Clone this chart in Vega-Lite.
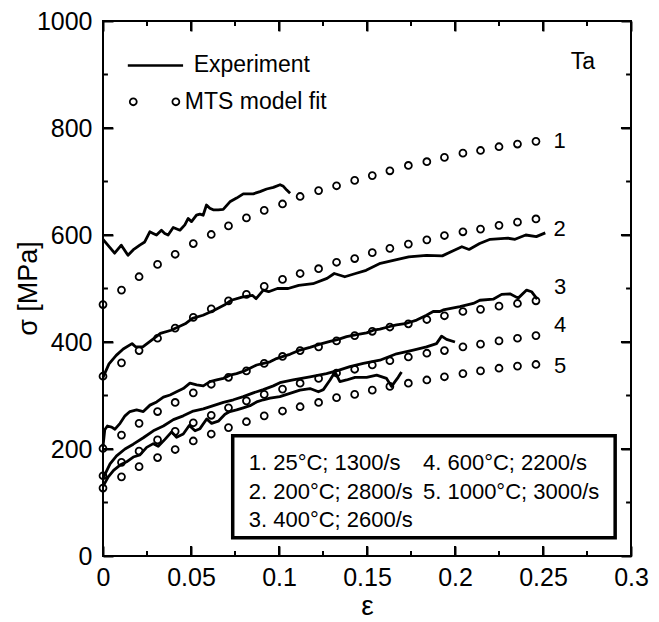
{
  "$schema": "https://vega.github.io/schema/vega-lite/v6.json",
  "width": 528,
  "height": 535,
  "autosize": {"type": "none"},
  "padding": {"left": 103, "top": 21, "right": 28, "bottom": 66},
  "background": "white",
  "config": {
    "view": {"stroke": "black", "strokeWidth": 2},
    "font": "Liberation Sans"
  },
  "datasets": {
    "exp": [
      {"c":"1","x":0,"y":592},{"c":"1","x":0.0066,"y":566},{"c":"1","x":0.0104,"y":581},{"c":"1","x":0.0142,"y":562},{"c":"1","x":0.0171,"y":572},{"c":"1","x":0.0209,"y":581},{"c":"1","x":0.0237,"y":587},{"c":"1","x":0.0266,"y":606},{"c":"1","x":0.0285,"y":603},{"c":"1","x":0.0304,"y":600},{"c":"1","x":0.0332,"y":609},{"c":"1","x":0.0351,"y":603},{"c":"1","x":0.037,"y":600},{"c":"1","x":0.0399,"y":614},{"c":"1","x":0.0437,"y":609},{"c":"1","x":0.0465,"y":619},{"c":"1","x":0.0484,"y":631},{"c":"1","x":0.0503,"y":625},{"c":"1","x":0.0531,"y":637},{"c":"1","x":0.055,"y":639},{"c":"1","x":0.0569,"y":637},{"c":"1","x":0.0588,"y":656},{"c":"1","x":0.0607,"y":650},{"c":"1","x":0.0626,"y":647},{"c":"1","x":0.0655,"y":647},{"c":"1","x":0.0683,"y":648},{"c":"1","x":0.0721,"y":662},{"c":"1","x":0.0759,"y":669},{"c":"1","x":0.0797,"y":677},{"c":"1","x":0.0854,"y":677},{"c":"1","x":0.0892,"y":681},{"c":"1","x":0.093,"y":686},{"c":"1","x":0.0968,"y":689},{"c":"1","x":0.1006,"y":694},{"c":"1","x":0.1025,"y":691},{"c":"1","x":0.1044,"y":684},{"c":"1","x":0.1063,"y":678},
      {"c":"2","x":0,"y":334},{"c":"2","x":0.0034,"y":359},{"c":"2","x":0.0075,"y":375},{"c":"2","x":0.0115,"y":387},{"c":"2","x":0.0165,"y":397},{"c":"2","x":0.0185,"y":391},{"c":"2","x":0.0226,"y":391},{"c":"2","x":0.0286,"y":406},{"c":"2","x":0.0326,"y":416},{"c":"2","x":0.0387,"y":422},{"c":"2","x":0.0427,"y":428},{"c":"2","x":0.0467,"y":434},{"c":"2","x":0.0508,"y":444},{"c":"2","x":0.0568,"y":450},{"c":"2","x":0.0629,"y":459},{"c":"2","x":0.0689,"y":469},{"c":"2","x":0.0729,"y":478},{"c":"2","x":0.079,"y":484},{"c":"2","x":0.085,"y":487},{"c":"2","x":0.087,"y":481},{"c":"2","x":0.0911,"y":497},{"c":"2","x":0.0941,"y":494},{"c":"2","x":0.0991,"y":500},{"c":"2","x":0.1052,"y":500},{"c":"2","x":0.1112,"y":506},{"c":"2","x":0.1193,"y":509},{"c":"2","x":0.1273,"y":519},{"c":"2","x":0.1314,"y":528},{"c":"2","x":0.1374,"y":522},{"c":"2","x":0.1435,"y":528},{"c":"2","x":0.1495,"y":534},{"c":"2","x":0.1576,"y":547},{"c":"2","x":0.1656,"y":553},{"c":"2","x":0.1737,"y":559},{"c":"2","x":0.1838,"y":562},{"c":"2","x":0.1928,"y":561},{"c":"2","x":0.1999,"y":572},{"c":"2","x":0.2039,"y":578},{"c":"2","x":0.208,"y":573},{"c":"2","x":0.214,"y":584},{"c":"2","x":0.22,"y":592},{"c":"2","x":0.2301,"y":594},{"c":"2","x":0.2341,"y":592},{"c":"2","x":0.2402,"y":600},{"c":"2","x":0.2462,"y":597},{"c":"2","x":0.2513,"y":604},
      {"c":"3","x":0,"y":205},{"c":"3","x":0.001,"y":236},{"c":"3","x":0.0025,"y":243},{"c":"3","x":0.0049,"y":241},{"c":"3","x":0.0068,"y":237},{"c":"3","x":0.0097,"y":248},{"c":"3","x":0.0125,"y":262},{"c":"3","x":0.0153,"y":270},{"c":"3","x":0.0191,"y":273},{"c":"3","x":0.0229,"y":270},{"c":"3","x":0.0267,"y":282},{"c":"3","x":0.0305,"y":288},{"c":"3","x":0.0343,"y":297},{"c":"3","x":0.0381,"y":301},{"c":"3","x":0.0418,"y":307},{"c":"3","x":0.0456,"y":313},{"c":"3","x":0.0494,"y":323},{"c":"3","x":0.0532,"y":320},{"c":"3","x":0.057,"y":318},{"c":"3","x":0.0608,"y":326},{"c":"3","x":0.0646,"y":329},{"c":"3","x":0.0684,"y":332},{"c":"3","x":0.0721,"y":338},{"c":"3","x":0.0759,"y":341},{"c":"3","x":0.0797,"y":345},{"c":"3","x":0.0835,"y":351},{"c":"3","x":0.0873,"y":357},{"c":"3","x":0.0911,"y":360},{"c":"3","x":0.0949,"y":363},{"c":"3","x":0.0986,"y":369},{"c":"3","x":0.1024,"y":373},{"c":"3","x":0.1062,"y":377},{"c":"3","x":0.1119,"y":385},{"c":"3","x":0.1176,"y":390},{"c":"3","x":0.1233,"y":396},{"c":"3","x":0.129,"y":401},{"c":"3","x":0.1337,"y":405},{"c":"3","x":0.1384,"y":410},{"c":"3","x":0.1441,"y":414},{"c":"3","x":0.1498,"y":417},{"c":"3","x":0.1536,"y":422},{"c":"3","x":0.1573,"y":424},{"c":"3","x":0.163,"y":429},{"c":"3","x":0.1668,"y":432},{"c":"3","x":0.1725,"y":435},{"c":"3","x":0.1782,"y":441},{"c":"3","x":0.1838,"y":450},{"c":"3","x":0.1876,"y":457},{"c":"3","x":0.1914,"y":457},{"c":"3","x":0.1933,"y":460},{"c":"3","x":0.2028,"y":466},{"c":"3","x":0.2104,"y":472},{"c":"3","x":0.2141,"y":478},{"c":"3","x":0.2217,"y":480},{"c":"3","x":0.2265,"y":489},{"c":"3","x":0.2312,"y":490},{"c":"3","x":0.2359,"y":482},{"c":"3","x":0.2407,"y":497},{"c":"3","x":0.2435,"y":494},{"c":"3","x":0.2467,"y":480},
      {"c":"4","x":0,"y":145},{"c":"4","x":0.004,"y":172},{"c":"4","x":0.0077,"y":187},{"c":"4","x":0.0125,"y":200},{"c":"4","x":0.0172,"y":209},{"c":"4","x":0.0229,"y":221},{"c":"4","x":0.0286,"y":234},{"c":"4","x":0.0343,"y":243},{"c":"4","x":0.04,"y":255},{"c":"4","x":0.0456,"y":262},{"c":"4","x":0.0513,"y":271},{"c":"4","x":0.057,"y":275},{"c":"4","x":0.0627,"y":281},{"c":"4","x":0.0684,"y":287},{"c":"4","x":0.0741,"y":292},{"c":"4","x":0.0797,"y":298},{"c":"4","x":0.0854,"y":305},{"c":"4","x":0.0911,"y":311},{"c":"4","x":0.0968,"y":318},{"c":"4","x":0.1005,"y":324},{"c":"4","x":0.108,"y":329},{"c":"4","x":0.1176,"y":335},{"c":"4","x":0.127,"y":341},{"c":"4","x":0.1337,"y":347},{"c":"4","x":0.1403,"y":354},{"c":"4","x":0.1479,"y":360},{"c":"4","x":0.1573,"y":366},{"c":"4","x":0.1668,"y":378},{"c":"4","x":0.1763,"y":385},{"c":"4","x":0.1838,"y":391},{"c":"4","x":0.1895,"y":397},{"c":"4","x":0.1924,"y":411},{"c":"4","x":0.1952,"y":405},{"c":"4","x":0.2,"y":400},
      {"c":"5","x":0,"y":130},{"c":"5","x":0.003,"y":148},{"c":"5","x":0.006,"y":160},{"c":"5","x":0.0097,"y":170},{"c":"5","x":0.0134,"y":176},{"c":"5","x":0.0172,"y":185},{"c":"5","x":0.021,"y":189},{"c":"5","x":0.0248,"y":203},{"c":"5","x":0.0286,"y":210},{"c":"5","x":0.0314,"y":205},{"c":"5","x":0.0352,"y":218},{"c":"5","x":0.039,"y":232},{"c":"5","x":0.0418,"y":222},{"c":"5","x":0.0456,"y":228},{"c":"5","x":0.049,"y":244},{"c":"5","x":0.0523,"y":234},{"c":"5","x":0.0551,"y":238},{"c":"5","x":0.0589,"y":256},{"c":"5","x":0.0617,"y":248},{"c":"5","x":0.0655,"y":252},{"c":"5","x":0.0693,"y":265},{"c":"5","x":0.0721,"y":270},{"c":"5","x":0.0759,"y":273},{"c":"5","x":0.0797,"y":277},{"c":"5","x":0.0835,"y":281},{"c":"5","x":0.0873,"y":288},{"c":"5","x":0.0911,"y":292},{"c":"5","x":0.0949,"y":295},{"c":"5","x":0.1005,"y":298},{"c":"5","x":0.1062,"y":304},{"c":"5","x":0.1119,"y":310},{"c":"5","x":0.1176,"y":313},{"c":"5","x":0.1224,"y":307},{"c":"5","x":0.1252,"y":311},{"c":"5","x":0.129,"y":329},{"c":"5","x":0.1318,"y":344},{"c":"5","x":0.1346,"y":326},{"c":"5","x":0.1384,"y":329},{"c":"5","x":0.1432,"y":334},{"c":"5","x":0.1498,"y":334},{"c":"5","x":0.1555,"y":338},{"c":"5","x":0.1611,"y":332},{"c":"5","x":0.164,"y":317},{"c":"5","x":0.1659,"y":326},{"c":"5","x":0.1677,"y":334},{"c":"5","x":0.1696,"y":344}
    ],
    "mts": [
      {"c":"1","x":0,"y":470},{"c":"1","x":0.0105,"y":497},{"c":"1","x":0.0205,"y":522},{"c":"1","x":0.031,"y":545},{"c":"1","x":0.041,"y":564},{"c":"1","x":0.0513,"y":584},{"c":"1","x":0.0615,"y":601},{"c":"1","x":0.0713,"y":617},{"c":"1","x":0.0815,"y":632},{"c":"1","x":0.0916,"y":646},{"c":"1","x":0.102,"y":658},{"c":"1","x":0.112,"y":672},{"c":"1","x":0.1225,"y":683},{"c":"1","x":0.1327,"y":692},{"c":"1","x":0.143,"y":702},{"c":"1","x":0.153,"y":711},{"c":"1","x":0.163,"y":720},{"c":"1","x":0.1735,"y":730},{"c":"1","x":0.184,"y":737},{"c":"1","x":0.194,"y":745},{"c":"1","x":0.2045,"y":753},{"c":"1","x":0.2145,"y":758},{"c":"1","x":0.225,"y":765},{"c":"1","x":0.2355,"y":770},{"c":"1","x":0.246,"y":775},
      {"c":"2","x":0,"y":336},{"c":"2","x":0.0105,"y":361},{"c":"2","x":0.0205,"y":384},{"c":"2","x":0.031,"y":407},{"c":"2","x":0.041,"y":426},{"c":"2","x":0.0513,"y":446},{"c":"2","x":0.0615,"y":462},{"c":"2","x":0.0713,"y":477},{"c":"2","x":0.0815,"y":489},{"c":"2","x":0.0916,"y":504},{"c":"2","x":0.102,"y":517},{"c":"2","x":0.112,"y":528},{"c":"2","x":0.1225,"y":537},{"c":"2","x":0.1327,"y":549},{"c":"2","x":0.143,"y":556},{"c":"2","x":0.153,"y":567},{"c":"2","x":0.163,"y":575},{"c":"2","x":0.1735,"y":583},{"c":"2","x":0.184,"y":591},{"c":"2","x":0.194,"y":599},{"c":"2","x":0.2045,"y":606},{"c":"2","x":0.2145,"y":611},{"c":"2","x":0.225,"y":618},{"c":"2","x":0.2355,"y":624},{"c":"2","x":0.246,"y":630},
      {"c":"3","x":0,"y":201},{"c":"3","x":0.0105,"y":226},{"c":"3","x":0.0205,"y":248},{"c":"3","x":0.031,"y":270},{"c":"3","x":0.041,"y":287},{"c":"3","x":0.0513,"y":305},{"c":"3","x":0.0615,"y":321},{"c":"3","x":0.0713,"y":334},{"c":"3","x":0.0815,"y":346},{"c":"3","x":0.0916,"y":360},{"c":"3","x":0.102,"y":373},{"c":"3","x":0.112,"y":384},{"c":"3","x":0.1225,"y":391},{"c":"3","x":0.1327,"y":402},{"c":"3","x":0.143,"y":412},{"c":"3","x":0.153,"y":420},{"c":"3","x":0.163,"y":428},{"c":"3","x":0.1735,"y":434},{"c":"3","x":0.184,"y":442},{"c":"3","x":0.194,"y":449},{"c":"3","x":0.2045,"y":457},{"c":"3","x":0.2145,"y":461},{"c":"3","x":0.225,"y":467},{"c":"3","x":0.2355,"y":472},{"c":"3","x":0.246,"y":477},
      {"c":"4","x":0,"y":150},{"c":"4","x":0.0105,"y":175},{"c":"4","x":0.0205,"y":196},{"c":"4","x":0.031,"y":217},{"c":"4","x":0.041,"y":233},{"c":"4","x":0.0513,"y":249},{"c":"4","x":0.0615,"y":263},{"c":"4","x":0.0713,"y":277},{"c":"4","x":0.0815,"y":290},{"c":"4","x":0.0916,"y":302},{"c":"4","x":0.102,"y":312},{"c":"4","x":0.112,"y":323},{"c":"4","x":0.1225,"y":332},{"c":"4","x":0.1327,"y":342},{"c":"4","x":0.143,"y":349},{"c":"4","x":0.153,"y":357},{"c":"4","x":0.163,"y":365},{"c":"4","x":0.1735,"y":372},{"c":"4","x":0.184,"y":379},{"c":"4","x":0.194,"y":384},{"c":"4","x":0.2045,"y":391},{"c":"4","x":0.2145,"y":396},{"c":"4","x":0.225,"y":402},{"c":"4","x":0.2355,"y":407},{"c":"4","x":0.246,"y":412},
      {"c":"5","x":0,"y":127},{"c":"5","x":0.0105,"y":148},{"c":"5","x":0.0205,"y":167},{"c":"5","x":0.031,"y":184},{"c":"5","x":0.041,"y":199},{"c":"5","x":0.0513,"y":215},{"c":"5","x":0.0615,"y":228},{"c":"5","x":0.0713,"y":240},{"c":"5","x":0.0815,"y":251},{"c":"5","x":0.0916,"y":262},{"c":"5","x":0.102,"y":271},{"c":"5","x":0.112,"y":279},{"c":"5","x":0.1225,"y":287},{"c":"5","x":0.1327,"y":296},{"c":"5","x":0.143,"y":302},{"c":"5","x":0.153,"y":310},{"c":"5","x":0.163,"y":317},{"c":"5","x":0.1735,"y":323},{"c":"5","x":0.184,"y":329},{"c":"5","x":0.194,"y":335},{"c":"5","x":0.2045,"y":341},{"c":"5","x":0.2145,"y":346},{"c":"5","x":0.225,"y":351},{"c":"5","x":0.2355,"y":355},{"c":"5","x":0.246,"y":358}
    ],
    "curvelabels": [
      {"t":"1","x":0.2595,"y":775},{"t":"2","x":0.2595,"y":612},{"t":"3","x":0.2598,"y":502},{"t":"4","x":0.2598,"y":432},{"t":"5","x":0.2598,"y":355}
    ],
    "boxtext": [
      {"t":"1. 25°C; 1300/s","x":0.0828,"y":174},
      {"t":"2. 200°C; 2800/s","x":0.0828,"y":120},
      {"t":"3. 400°C; 2600/s","x":0.0828,"y":67},
      {"t":"4. 600°C; 2200/s","x":0.1818,"y":174},
      {"t":"5. 1000°C; 3000/s","x":0.1818,"y":120}
    ],
    "box": [
      {"x":0.0737,"x2":0.291,"y":34,"y2":225}
    ],
    "legtext": [
      {"t":"Experiment","x":0.0515,"y":917},
      {"t":"MTS model fit","x":0.0465,"y":849},
      {"t":"Ta","x":0.2657,"y":923}
    ],
    "legcircles": [
      {"x":0.0172,"y":849},{"x":0.0414,"y":849}
    ],
    "legline": [
      {"x":0.0141,"x2":0.0455,"y":917}
    ],
    "xmaj": [{"v":0.05},{"v":0.1},{"v":0.15},{"v":0.2},{"v":0.25}],
    "xmin": [{"v":0.025},{"v":0.075},{"v":0.125},{"v":0.175},{"v":0.225},{"v":0.275}],
    "ymaj": [{"v":200},{"v":400},{"v":600},{"v":800}],
    "ymin": [{"v":100},{"v":300},{"v":500},{"v":700},{"v":900}]
  },
  "layer": [
    {
      "data": {"name": "exp"},
      "mark": {"type": "line", "color": "black", "strokeWidth": 2.8, "strokeJoin": "round"},
      "encoding": {
        "x": {"field": "x", "type": "quantitative", "scale": {"domain": [0, 0.3], "nice": false, "zero": false},
          "axis": {"orient": "bottom", "values": [0,0.05,0.1,0.15,0.2,0.25,0.3], "format": ".2~f", "offset": -10, "tickSize": 10, "tickColor": "black", "tickWidth": 2, "gridOpacity": 0, "domain": false,
            "labelFontSize": 25, "labelPadding": 9, "labelColor": "black", "labelFlush": false,
            "title": "ε", "titleFontSize": 28, "titleFontWeight": "normal", "titleColor": "black", "titleY": 60, "titleBaseline": "middle"}},
        "y": {"field": "y", "type": "quantitative", "scale": {"domain": [0, 1000], "nice": false, "zero": false},
          "axis": {"orient": "left", "values": [0,200,400,600,800,1000], "format": "d", "offset": -10, "tickSize": 10, "tickColor": "black", "tickWidth": 2, "gridOpacity": 0, "domain": false,
            "labelFontSize": 25, "labelPadding": 11, "labelColor": "black", "labelFlush": false,
            "title": "σ [MPa]", "titleFontSize": 27, "titleFontWeight": "normal", "titleColor": "black", "titleX": -85, "titleY": 267, "titleAngle": -90, "titleAlign": "center", "titleBaseline": "middle"}},
        "detail": {"field": "c", "type": "nominal"}
      }
    },
    {
      "data": {"name": "mts"},
      "mark": {"type": "point", "shape": "circle", "filled": false, "color": "black", "opacity": 1, "size": 48, "strokeWidth": 1.8},
      "encoding": {
        "x": {"field": "x", "type": "quantitative", "scale": {"domain": [0, 0.3], "nice": false, "zero": false},
          "axis": {"orient": "top", "values": [0,0.05,0.1,0.15,0.2,0.25,0.3], "labels": false, "title": null, "offset": -10, "tickSize": 10, "tickColor": "black", "tickWidth": 2, "gridOpacity": 0, "domain": false}},
        "y": {"field": "y", "type": "quantitative", "scale": {"domain": [0, 1000], "nice": false, "zero": false},
          "axis": {"orient": "right", "values": [0,200,400,600,800,1000], "labels": false, "title": null, "offset": -10, "tickSize": 10, "tickColor": "black", "tickWidth": 2, "gridOpacity": 0, "domain": false}}
      }
    },
    {
      "data": {"name": "box"},
      "mark": {"type": "rect", "fill": "white", "stroke": "black", "strokeWidth": 3.5},
      "encoding": {
        "x": {"field": "x", "type": "quantitative", "axis": null},
        "x2": {"field": "x2"},
        "y": {"field": "y", "type": "quantitative", "axis": null},
        "y2": {"field": "y2"}
      }
    },
    {
      "data": {"name": "curvelabels"},
      "mark": {"type": "text", "fontSize": 22, "color": "black", "align": "center", "baseline": "middle"},
      "encoding": {
        "x": {"field": "x", "type": "quantitative", "axis": null},
        "y": {"field": "y", "type": "quantitative", "axis": null},
        "text": {"field": "t"}
      }
    },
    {
      "data": {"name": "boxtext"},
      "mark": {"type": "text", "fontSize": 22, "color": "black", "align": "left", "baseline": "middle"},
      "encoding": {
        "x": {"field": "x", "type": "quantitative", "axis": null},
        "y": {"field": "y", "type": "quantitative", "axis": null},
        "text": {"field": "t"}
      }
    },
    {
      "data": {"name": "legtext"},
      "mark": {"type": "text", "fontSize": 23, "color": "black", "align": "left", "baseline": "middle"},
      "encoding": {
        "x": {"field": "x", "type": "quantitative", "axis": null},
        "y": {"field": "y", "type": "quantitative", "axis": null},
        "text": {"field": "t"}
      }
    },
    {
      "data": {"name": "legcircles"},
      "mark": {"type": "point", "shape": "circle", "filled": false, "color": "black", "opacity": 1, "size": 48, "strokeWidth": 1.8},
      "encoding": {
        "x": {"field": "x", "type": "quantitative", "axis": null},
        "y": {"field": "y", "type": "quantitative", "axis": null}
      }
    },
    {
      "data": {"name": "legline"},
      "mark": {"type": "rule", "color": "black", "strokeWidth": 2.5},
      "encoding": {
        "x": {"field": "x", "type": "quantitative", "axis": null},
        "x2": {"field": "x2"},
        "y": {"field": "y", "type": "quantitative", "axis": null}
      }
    },
    {
      "data": {"name": "xmaj"},
      "mark": {"type": "rule", "color": "black", "strokeWidth": 2},
      "encoding": {"x": {"field": "v", "type": "quantitative", "axis": null}, "y": {"datum": 0, "type": "quantitative", "axis": null}, "y2": {"datum": 18.7}}
    },
    {
      "data": {"name": "xmaj"},
      "mark": {"type": "rule", "color": "black", "strokeWidth": 2},
      "encoding": {"x": {"field": "v", "type": "quantitative", "axis": null}, "y": {"datum": 1000, "type": "quantitative", "axis": null}, "y2": {"datum": 981.3}}
    },
    {
      "data": {"name": "xmin"},
      "mark": {"type": "rule", "color": "black", "strokeWidth": 2},
      "encoding": {"x": {"field": "v", "type": "quantitative", "axis": null}, "y": {"datum": 0, "type": "quantitative", "axis": null}, "y2": {"datum": 9.3}}
    },
    {
      "data": {"name": "xmin"},
      "mark": {"type": "rule", "color": "black", "strokeWidth": 2},
      "encoding": {"x": {"field": "v", "type": "quantitative", "axis": null}, "y": {"datum": 1000, "type": "quantitative", "axis": null}, "y2": {"datum": 990.7}}
    },
    {
      "data": {"name": "ymaj"},
      "mark": {"type": "rule", "color": "black", "strokeWidth": 2},
      "encoding": {"y": {"field": "v", "type": "quantitative", "axis": null}, "x": {"datum": 0, "type": "quantitative", "axis": null}, "x2": {"datum": 0.0057}}
    },
    {
      "data": {"name": "ymaj"},
      "mark": {"type": "rule", "color": "black", "strokeWidth": 2},
      "encoding": {"y": {"field": "v", "type": "quantitative", "axis": null}, "x": {"datum": 0.3, "type": "quantitative", "axis": null}, "x2": {"datum": 0.2943}}
    },
    {
      "data": {"name": "ymin"},
      "mark": {"type": "rule", "color": "black", "strokeWidth": 2},
      "encoding": {"y": {"field": "v", "type": "quantitative", "axis": null}, "x": {"datum": 0, "type": "quantitative", "axis": null}, "x2": {"datum": 0.0028}}
    },
    {
      "data": {"name": "ymin"},
      "mark": {"type": "rule", "color": "black", "strokeWidth": 2},
      "encoding": {"y": {"field": "v", "type": "quantitative", "axis": null}, "x": {"datum": 0.3, "type": "quantitative", "axis": null}, "x2": {"datum": 0.2972}}
    }
  ],
  "resolve": {"axis": {"x": "independent", "y": "independent"}}
}
